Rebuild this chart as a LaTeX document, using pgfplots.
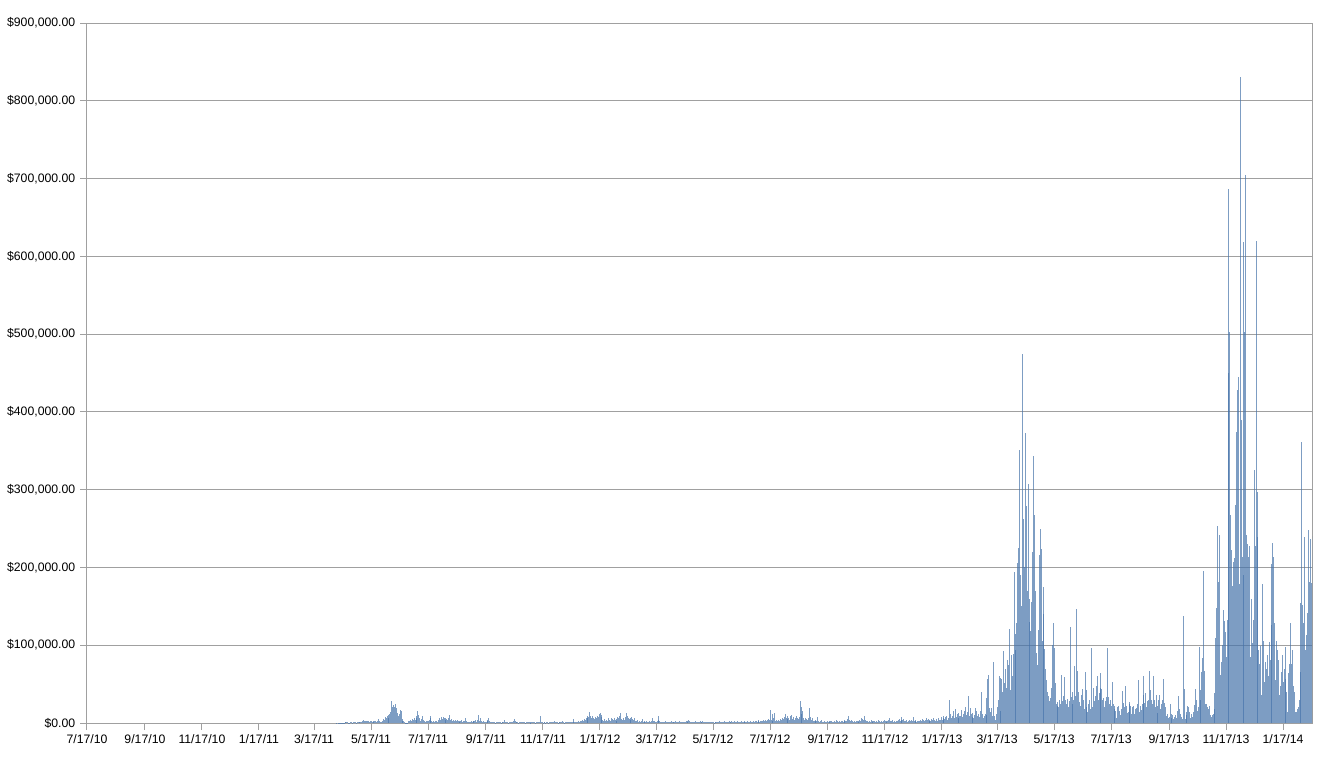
\documentclass[border=0pt]{standalone}
\usepackage{pgfplots}
\usepackage{pgfplotstable}
\usepackage{fontspec}
\setmainfont{Liberation Sans}
\pgfplotsset{compat=1.18}
\definecolor{barblue}{RGB}{70,115,170}
\definecolor{gridgray}{RGB}{160,160,160}

% daily volume in thousands of USD; d = days after 7/17/10, c0..c9 = d+0..d+9
\pgfplotstableread{
d c0 c1 c2 c3 c4 c5 c6 c7 c8 c9
265 0 0 0.2 0 0.3 0.2 0.3 0.4 0.3 0.5
275 0.4 1.2 0.8 1.5 1.0 0.6 0.5 0.8 0.7 0.6
285 1.5 1.2 0.8 0.6 0.9 1.1 0.7 0.8 1.0 0.9
295 2.0 3.5 2.8 2.2 3.0 2.5 2.0 1.8 2.4 2.0
305 1.6 2.2 1.8 2.5 2.0 1.5 2.2 5.5 2.0 1.2
315 1.0 3.0 5.0 4.0 8.0 6.0 9.5 7.0 10.0 12.0
325 14 28 20 23 21 25 19 13 9 12
335 17 15 5 3 2 0.8 0.5 0.6 0.4 2.5
345 3.0 4.5 2.0 5.0 3.5 6.0 4.0 7.0 9.0 15.0
355 10.5 6.0 3.0 5.5 8.5 4.0 2.5 1.5 2.0 3.0
365 2.0 4.0 9.5 6.5 2.5 1.8 3.0 1.5 2.0 2.5
375 1.5 3.5 6.0 4.5 7.5 5.0 8.0 6.0 4.0 7.0
385 5.5 3.5 6.5 10.5 4.0 5.5 3.0 4.5 2.0 3.5
395 2.5 4.0 2.0 3.0 1.5 2.5 3.5 1.8 2.2 3.0
405 6.5 2.0 1.2 0.8 1.5 1.0 2.0 1.2 2.5 3.0
415 2.0 3.5 1.5 4.5 10.5 3.0 6.5 2.0 1.5 2.5
425 1.2 1.8 1.0 2.0 3.5 6.5 2.5 1.5 1.0 1.2
435 0.8 1.0 0.6 1.2 0.9 0.7 1.5 0.8 0.6 1.0
445 1.2 1.8 3.8 1.0 0.8 1.4 0.6 0.9 1.0 0.7
455 1.5 2.0 5.0 2.2 1.0 0.8 1.2 0.6 0.9 1.1
465 0.7 1.0 0.8 1.5 0.6 0.9 1.2 0.8 1.0 0.5
475 0.8 1.3 0.7 0.9 1.1 0.6 1.0 0.8 1.2 0.9
485 8.5 1.0 0.8 0.6 1.0 0.7 0.5 0.8 1.2 0.6
495 0.9 0.7 1.0 0.8 1.2 3.0 1.5 0.8 1.0 0.6
505 0.9 1.1 0.7 1.0 2.0 0.8 0.6 1.2 0.9 0.7
515 1.0 0.8 1.5 1.2 0.9 5.0 1.8 1.0 0.7 1.2
525 1.5 2.0 1.2 3.0 2.5 4.0 3.0 5.5 4.0 7.0
535 6.0 9.5 7.5 14.5 9.0 6.5 8.5 7.0 5.0 8.0
545 6.0 9.0 7.5 11.0 13.0 10.0 8.0 4.5 3.0 5.0
555 2.5 4.0 3.0 6.0 4.5 3.0 7.0 5.0 3.5 6.5
565 4.0 2.5 5.0 8.0 6.0 9.5 13.0 5.0 3.5 6.0
575 4.5 7.5 13.5 9.0 7.0 5.5 4.0 6.5 8.0 5.0
585 4.0 6.0 3.0 2.0 3.5 1.5 2.5 1.8 2.2 5.5
595 1.5 2.0 1.2 1.8 2.5 1.0 1.5 2.0 1.2 2.8
605 6.0 3.0 2.0 1.5 1.2 2.0 3.5 9.0 2.0 1.5
615 1.0 1.5 0.8 1.2 2.0 1.0 0.7 1.3 0.9 1.5
625 2.5 1.2 0.8 1.0 1.8 2.2 1.0 0.9 1.4 2.6
635 1.2 0.8 1.5 1.0 0.7 1.3 2.0 1.1 2.8 4.0
645 2.0 1.5 1.0 1.8 0.9 1.2 2.5 1.0 0.8 1.4
655 1.1 3.0 1.5 1.0 2.2 1.2 0.8 1.0 1.6 0.9
665 1.2 0.7 1.0 1.5 0.8 1.1 0.6 0.9 1.3 1.0
675 0.8 1.2 2.0 1.0 1.5 0.9 1.3 2.5 1.2 1.0
685 1.8 1.3 2.2 1.5 1.0 2.8 1.4 1.2 2.0 1.6
695 1.2 2.5 1.5 1.0 1.8 2.2 1.3 1.0 1.5 2.0
705 1.4 1.8 2.6 1.2 1.5 3.0 1.7 1.3 2.2 1.6
715 2.0 2.8 1.8 3.5 2.2 1.6 2.5 3.0 2.0 4.0
725 3.2 4.5 3.0 4.2 5.0 3.5 17.0 4.0 3.0 12.0
735 6.0 12.5 3.0 4.0 2.5 3.5 3.0 5.0 4.0 6.5
745 5.0 8.0 12.0 7.0 5.5 8.5 6.0 4.5 9.0 10.5
755 5.0 7.5 4.0 6.0 9.5 7.0 5.0 8.0 28.0 12.0
765 21.0 15.0 6.0 4.0 7.0 5.5 3.5 6.0 19.0 8.0
775 4.0 6.5 3.0 2.5 4.0 2.0 3.0 8.0 2.5 1.5
785 2.0 3.5 1.2 1.8 2.5 1.0 1.5 2.8 1.2 2.0
795 1.5 3.0 2.2 1.0 1.8 2.5 1.2 3.5 2.0 1.5
805 2.8 1.3 2.0 3.2 1.6 2.4 4.0 2.0 3.0 5.0
815 9.5 3.5 2.5 4.0 2.0 1.5 2.5 1.8 3.0 2.2
825 1.5 2.8 4.5 3.0 6.0 5.0 4.0 9.5 3.5 2.0
835 3.0 1.5 2.5 1.8 3.5 2.0 1.5 2.2 3.0 1.2
845 2.5 1.8 4.0 2.0 1.5 2.8 1.6 2.4 3.5 2.0
855 1.3 2.2 3.0 4.5 7.0 2.5 2.0 3.5 1.5 2.8
865 1.8 3.2 2.0 4.0 5.5 3.0 4.5 8.0 3.5 5.0
875 2.5 2.0 3.5 1.8 2.6 3.5 2.0 4.0 3.0 8.0
885 2.5 3.5 2.0 1.5 3.0 2.2 2.8 4.0 3.0 5.5
895 3.5 2.5 4.5 6.0 3.5 5.0 3.0 4.5 2.5 5.0
905 3.5 6.0 4.0 2.5 5.5 3.0 7.0 4.5 3.5 8.0
915 4.0 6.0 9.0 5.0 7.5 9.0 4.5 6.5 29.0 12.0
925 6.0 9.0 15.0 7.0 18.0 8.0 11.0 6.0 13.0 9.0
935 9 17 8 12 15 21 10 14 35 9
945 19 11 8 13 6 10 19 16 9 12
955 8 15 40 11 6 9 12 10 32 56
965 62 19 14 19 9 79 9 4 12 20
975 30 61 15 58 56 40 92 52 69 45
985 81 75 121 43 88 60 89 194 115 94
995 129 206 225 351 190 150 475 262 200 373
1005 279 170 307 160 130 118 155 220 343 267
1015 170 90 75 120 216 249 224 105 140 175
1025 95 70 55 40 35 28 32 45 100 129
1035 96 52 25 22 27 20 30 24 62 28
1045 35 59 30 25 31 20 28 123 33 25
1055 40 30 73 35 147 67 40 27 22 36
1065 44 30 18 65 42 20 14 25 30 18
1075 97 20 45 28 35 47 60 30 38 64
1085 45 44 30 32 20 28 33 97 33 25
1095 30 22 53 25 18 22 15 7 20 22
1105 15 10 18 41 26 20 47 22 13 14
1115 25 27 22 12 20 22 12 18 19 25
1125 55 14 22 17 25 60 36 26 38 20
1135 28 30 67 43 30 25 61 29 20 36
1145 22 13 30 36 18 25 30 56 26 20
1155 9 12 6 8 25 12 7 10 5 8
1165 10 6 15 35 18 12 8 5 137 44
1175 5 14 10 22 20 14 6 12 8 14
1185 23 44 30 15 20 98 42 30 66 83
1195 195 67 25 25 20 18 22 10 8 10
1205 12 38 18 109 148 253 181 242 62 79
1215 100 145 131 117 85 132 450 687 503 268
1225 222 176 207 212 280 374 428 445 179 831
1235 390 214 190 618 503 705 242 230 214 227
1245 85 159 103 132 325 227 620 297 239 94
1255 76 99 36 179 106 53 79 70 87 60
1265 104 81 126 205 232 214 128 55 106 94
1275 81 36 48 66 88 53 70 98 57 40
1285 14 64 76 129 76 94 48 40 14 14
1295 18 21 30 66 154 361 152 129 239 94
1305 113 141 248 181 237 180 240 0 0 0
}\vol

\begin{document}
\begin{tikzpicture}
\begin{axis}[
  at={(0,0)}, anchor=south west,
  scale only axis, width=918.75pt, height=525pt,
  xmin=0, xmax=1311, ymin=0, ymax=900,
  xtick={0,62,123,184,243,304,365,427,488,549,609,670,731,793,854,915,974,1035,1096,1158,1219,1280},
  xticklabels={7/17/10,9/17/10,11/17/10,1/17/11,3/17/11,5/17/11,7/17/11,9/17/11,11/17/11,1/17/12,3/17/12,5/17/12,7/17/12,9/17/12,11/17/12,1/17/13,3/17/13,5/17/13,7/17/13,9/17/13,11/17/13,1/17/14},
  ytick={0,100,200,300,400,500,600,700,800,900},
  yticklabels={{\$0.00},{\$100,000.00},{\$200,000.00},{\$300,000.00},{\$400,000.00},{\$500,000.00},{\$600,000.00},{\$700,000.00},{\$800,000.00},{\$900,000.00}},
  ymajorgrids,
  major grid style={gridgray, line width=0.75pt},
  axis line style={gridgray, line width=0.75pt},
  tick style={gridgray, line width=0.75pt},
  major tick length=5.25pt,
  tick align=outside,
  xtick pos=bottom, ytick pos=left,
  tick label style={font=\fontsize{9.2}{10}\selectfont, black},
]
\pgfplotsinvokeforeach{0,1,2,3,4,5,6,7,8,9}{
  \addplot[ycomb, barblue, line width=0.55pt, mark=none, opacity=0.7]
    table[x expr=\thisrow{d}+#1, y=c#1] {\vol};
}
\end{axis}
\pgfresetboundingbox
\path[use as bounding box] (-65.25pt,-26.25pt) rectangle (927pt,542.25pt);
\end{tikzpicture}
\end{document}
